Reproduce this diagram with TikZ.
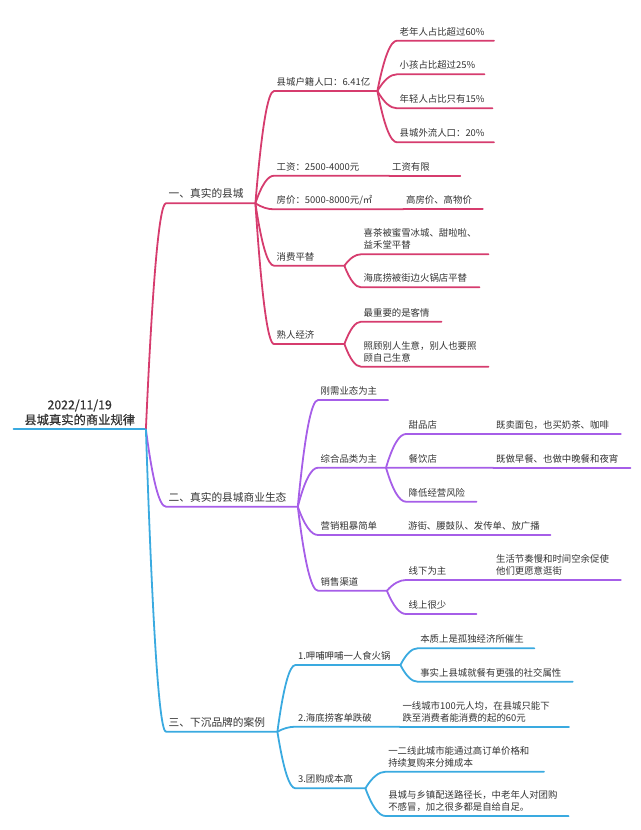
\documentclass[tikz,border=0pt]{standalone}
\usepackage{fontspec}
\setmainfont{Noto Sans CJK SC}
\usepackage{xcolor}
\usetikzlibrary{positioning,calc}

\definecolor{redline}{HTML}{D63C6E}
\definecolor{purpleline}{HTML}{A65EE8}
\definecolor{blueline}{HTML}{3AAAE0}
\definecolor{txt}{HTML}{333333}

\tikzset{
  topic/.style = {anchor=south west, inner xsep=2.5pt, inner ysep=4pt, text depth=1.5pt,
    align=left, text=txt, font=\fontsize{9.4}{11.7}\selectfont},
  twoline/.style = {text depth=13.2pt},
  major/.style = {topic, font=\fontsize{10.7}{13}\selectfont},
  curvy/.style = {to path={let \p1=(\tikztostart), \p2=(\tikztotarget) in
    .. controls (\x1*2/3+\x2/3, \y1/3+\y2*2/3) and (\x2*2/3+\x1/3, \y2) .. (\tikztotarget)}},
  rb/.style = {draw=redline, line width=1.8pt, line cap=round},
  pb/.style = {draw=purpleline, line width=1.8pt, line cap=round},
  bb/.style = {draw=blueline, line width=1.8pt, line cap=round}
}

\begin{document}
\begin{tikzpicture}[x=1pt, y=-1pt]
\useasboundingbox (0,0) rectangle (640,830);

% root
\node[topic, align=center, inner ysep=3pt, text depth=16.8pt, text width=127pt, font=\fontsize{12.3}{15}\selectfont\addfontfeatures{FakeBold=0.6}] (root) at (13.5,429.3) {2022/11/19\\县城真实的商业规律};

% main branches
\node[major, text width=84pt] (real) at (166,203.3) {一、真实的县城};
\node[major, text width=126.4pt] (eco) at (166,506.7) {二、真实的县城商业生态};
\node[major, text width=106pt] (case) at (166,731.7) {三、下沉品牌的案例};

% branch one
\node[topic, text width=98pt] (pop) at (274,91) {县城户籍人口：6.41亿};
\node[topic, text width=110pt] (wage) at (274,175.7) {工资：2500-4000元};
\node[topic, right=0pt of wage.south east, anchor=south west, text width=65.5pt] (wagenote) {工资有限};
\node[topic, text width=124pt] (house) at (274,209.3) {房价：5000-8000元/㎡};
\node[topic, right=0pt of house.south east, anchor=south west, text width=74pt] (housenote) {高房价、高物价};
\node[topic, text width=65pt] (cheap) at (274,265.7) {消费平替};
\node[topic, text width=65pt] (acq) at (274,344) {熟人经济};

\node[topic, text width=91.5pt] (old) at (397,40.7) {老年人占比超过60\%};
\node[topic, text width=82pt] (kid) at (397,74.3) {小孩占比超过25\%};
\node[topic, text width=90pt] (young) at (397,108.3) {年轻人占比只有15\%};
\node[topic, text width=91.5pt] (out) at (397,142.3) {县城外流人口：20\%};

\node[topic, twoline, text width=122pt] (tea) at (361,254.3) {喜茶被蜜雪冰城、甜啦啦、\\益禾堂平替};
\node[topic, text width=113pt] (pot) at (361,287.3) {海底捞被街边火锅店平替};
\node[topic, text width=75pt] (favor) at (361,321.7) {最重要的是客情};
\node[topic, twoline, text width=122pt] (mutual) at (361,366.7) {照顾别人生意，别人也要照\\顾自己生意};

% branch two
\node[topic, text width=64.7pt] (need) at (318,400) {刚需业态为主};
\node[topic, text width=62.6pt] (mix) at (318,467.7) {综合品类为主};
\node[topic, text width=82pt] (promo) at (318,535) {营销粗暴简单};
\node[topic, right=0pt of promo.south east, anchor=south west, text width=139.7pt] (promonote) {游街、腰鼓队、发传单、放广播};
\node[topic, text width=63.5pt] (sales) at (318,590.7) {销售渠道};

\node[topic, text width=82pt] (sweet) at (406,434) {甜品店};
\node[topic, right=0pt of sweet.south east, anchor=south west, text width=122pt] (sweetnote) {既卖面包，也买奶茶、咖啡};
\node[topic, text width=82pt] (food) at (406,467.7) {餐饮店};
\node[topic, right=0pt of food.south east, anchor=south west, text width=131.7pt] (foodnote) {既做早餐、也做中晚餐和夜宵};
\node[topic, text width=65pt] (risk) at (406,501.7) {降低经营风险};
\node[topic, text width=82pt] (offline) at (406,580) {线下为主};
\node[topic, twoline, right=0pt of offline.south east, anchor=south west, text width=122pt] (offlinenote) {生活节奏慢和时间空余促使\\他们更愿意逛街};
\node[topic, text width=65pt] (online) at (406,614) {线上很少};

% branch three
\node[topic, text width=99.6pt] (xiabu) at (295.4,665) {1.呷哺呷哺一人食火锅};
\node[topic, text width=99pt] (hdl) at (295.4,726.7) {2.海底捞客单跌破};
\node[topic, twoline, right=0pt of hdl.south east, anchor=south west, text width=163.8pt] (hdlnote) {一线城市100元人均，在县城只能下\\跌至消费者能消费的起的60元};
\node[topic, text width=64.6pt] (group) at (295.4,788.3) {3.团购成本高};

\node[topic, text width=111.4pt] (lonely) at (417.6,648.3) {本质上是孤独经济所催生};
\node[topic, text width=149.7pt] (social) at (417.6,681.7) {事实上县城就餐有更强的社交属性};
\node[topic, twoline, text width=153pt] (bigcity) at (385.6,771.7) {一二线此城市能通过高订单价格和\\持续复购来分摊成本};
\node[topic, twoline, text width=177.6pt] (town) at (385.6,816) {县城与乡镇配送路径长，中老年人对团购\\不感冒，加之很多都是自给自足。};

% connectors
\draw[bb] (root.south west) -- (root.south east);
\draw[rb] (root.south east) to[curvy] (real.south west) -- (real.south east);
\draw[pb] (root.south east) to[curvy] (eco.south west) -- (eco.south east);
\draw[bb] (root.south east) to[curvy] (case.south west) -- (case.south east);

\foreach \kid in {pop, wage, house, cheap, acq}
  \draw[rb] (real.south east) to[curvy] (\kid.south west) -- (\kid.south east);
\draw[rb] (wage.south east) -- (wagenote.south east);
\draw[rb] (house.south east) -- (housenote.south east);
\foreach \kid in {old, kid, young, out}
  \draw[rb] (pop.south east) to[curvy] (\kid.south west) -- (\kid.south east);
\foreach \kid in {tea, pot}
  \draw[rb] (cheap.south east) to[curvy] (\kid.south west) -- (\kid.south east);
\foreach \kid in {favor, mutual}
  \draw[rb] (acq.south east) to[curvy] (\kid.south west) -- (\kid.south east);

\foreach \kid in {need, mix, promo, sales}
  \draw[pb] (eco.south east) to[curvy] (\kid.south west) -- (\kid.south east);
\draw[pb] (promo.south east) -- (promonote.south east);
\foreach \kid in {sweet, food, risk}
  \draw[pb] (mix.south east) to[curvy] (\kid.south west) -- (\kid.south east);
\draw[pb] (sweet.south east) -- (sweetnote.south east);
\draw[pb] (food.south east) -- (foodnote.south east);
\foreach \kid in {offline, online}
  \draw[pb] (sales.south east) to[curvy] (\kid.south west) -- (\kid.south east);
\draw[pb] (offline.south east) -- (offlinenote.south east);

\foreach \kid in {xiabu, hdl, group}
  \draw[bb] (case.south east) to[curvy] (\kid.south west) -- (\kid.south east);
\draw[bb] (hdl.south east) -- (hdlnote.south east);
\foreach \kid in {lonely, social}
  \draw[bb] (xiabu.south east) to[curvy] (\kid.south west) -- (\kid.south east);
\foreach \kid in {bigcity, town}
  \draw[bb] (group.south east) to[curvy] (\kid.south west) -- (\kid.south east);
\end{tikzpicture}
\end{document}
